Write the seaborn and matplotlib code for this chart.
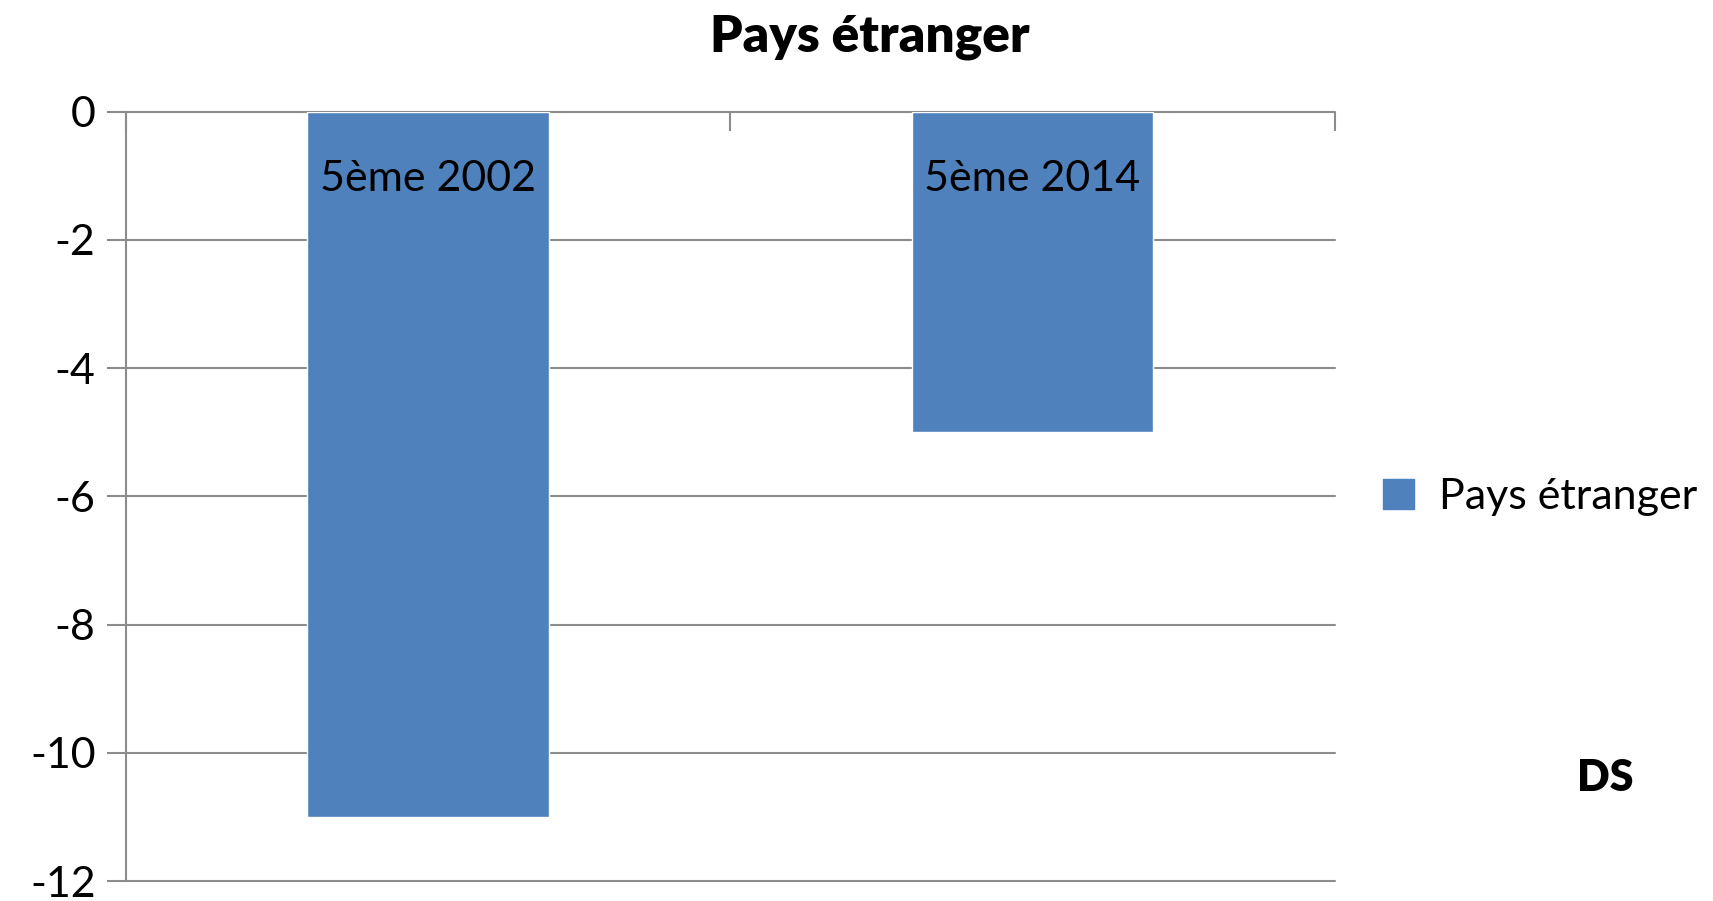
import pandas as pd
import matplotlib.pyplot as plt
import seaborn as sns

# Data
categories = ['5ème 2002', '5ème 2014']
values = [-11, -5]
series_name = 'Pays étranger'
y_ticks = [0, -2, -4, -6, -8, -10, -12]

df = pd.DataFrame({'cat': categories, 'val': values, 'serie': series_name})

sns.set_theme(style='white')
plt.rcParams['font.family'] = ['Lato', 'DejaVu Sans']
plt.rcParams['text.color'] = 'black'
plt.rcParams['xtick.labelcolor'] = 'black'
plt.rcParams['ytick.labelcolor'] = 'black'

fig = plt.figure(figsize=(17.13, 9.01), dpi=100)
ax = fig.add_axes([0.0736, 0.022, 0.7055, 0.854])

bar_color = '#4F81BD'
grid_color = '#8C8C8C'

sns.barplot(data=df, x='cat', y='val', hue='serie', palette=[bar_color],
            width=0.4, ax=ax, zorder=2, saturation=1, legend=False)

ax.set_xlim(-0.5, 1.5)
ax.set_ylim(-12, 0)
ax.set_yticks(y_ticks)
ax.set_yticklabels([str(t) for t in y_ticks], fontsize=31)
ax.set_xlabel('')
ax.set_ylabel('')

# horizontal gridlines
for t in y_ticks:
    ax.axhline(t, color=grid_color, lw=1.5, zorder=1, clip_on=False)

for s in ['top', 'right', 'bottom']:
    ax.spines[s].set_visible(False)
ax.spines['left'].set_color(grid_color)
ax.spines['left'].set_linewidth(1.5)
ax.set_axisbelow(False)

ax.tick_params(axis='y', left=True, direction='out', length=14, width=1.5,
               color=grid_color, pad=8)

# category labels sit at the zero line, inside the bars
ax.xaxis.set_ticks_position('top')
ax.tick_params(axis='x', which='major', top=True, bottom=False, labeltop=True,
               labelbottom=False, length=0, pad=-62, labelsize=31)
ax.set_xticks([-0.5, 0.5, 1.5], minor=True)
ax.tick_params(axis='x', which='minor', top=True, direction='in', length=14,
               width=1.5, color=grid_color)

fig.suptitle('Pays étranger', fontsize=37, fontweight='heavy', x=0.508, y=0.985)

# legend
handle = plt.Rectangle((0, 0), 1, 1, color=bar_color)
fig.legend([handle], [series_name], loc='center left',
           bbox_to_anchor=(0.785, 0.448), frameon=False, fontsize=31,
           handlelength=0.7, handleheight=0.7, handletextpad=0.6)

fig.text(0.937, 0.137, 'DS', fontsize=31, fontweight='heavy', ha='center', va='center')

fig.savefig('out.png', dpi=100)
